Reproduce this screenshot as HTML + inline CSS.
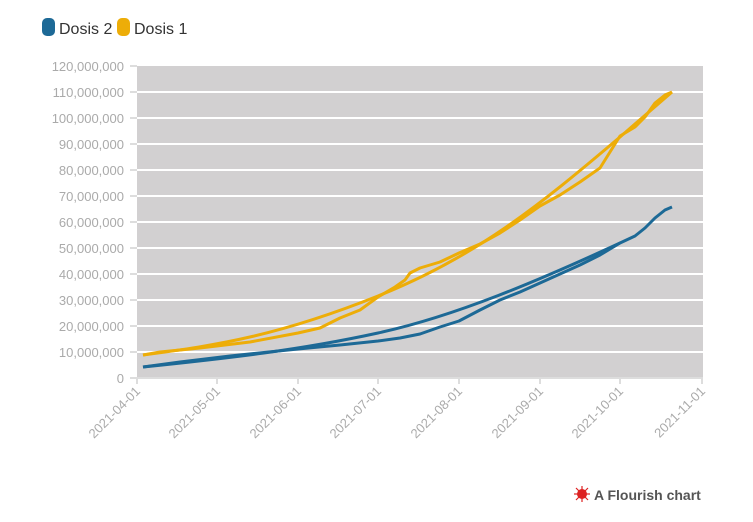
<!DOCTYPE html>
<html><head><meta charset="utf-8"><style>
body{margin:0;background:#fff;width:753px;height:517px;overflow:hidden;font-family:"Liberation Sans",sans-serif}
</style></head><body>
<svg width="753" height="517" xmlns="http://www.w3.org/2000/svg" font-family="Liberation Sans, sans-serif">
<rect x="42" y="18" width="13" height="18" rx="5" fill="#1d6996"/>
<text x="59" y="34" font-size="16" fill="#333">Dosis 2</text>
<rect x="117" y="18" width="13" height="18" rx="5" fill="#edad08"/>
<text x="134" y="34" font-size="16" fill="#333">Dosis 1</text>
<rect x="137" y="66" width="566" height="311" fill="#d2d0d1"/>
<g stroke="#fff" stroke-width="2">
<line x1="137" x2="703" y1="92" y2="92"/><line x1="137" x2="703" y1="118" y2="118"/>
<line x1="137" x2="703" y1="144" y2="144"/><line x1="137" x2="703" y1="170" y2="170"/>
<line x1="137" x2="703" y1="196" y2="196"/><line x1="137" x2="703" y1="222" y2="222"/>
<line x1="137" x2="703" y1="248" y2="248"/><line x1="137" x2="703" y1="274" y2="274"/>
<line x1="137" x2="703" y1="300" y2="300"/><line x1="137" x2="703" y1="326" y2="326"/>
<line x1="137" x2="703" y1="352" y2="352"/>
</g>
<g stroke="#ddd" stroke-width="2">
<line x1="130" x2="137" y1="66" y2="66"/><line x1="130" x2="137" y1="92" y2="92"/><line x1="130" x2="137" y1="118" y2="118"/><line x1="130" x2="137" y1="144" y2="144"/><line x1="130" x2="137" y1="170" y2="170"/><line x1="130" x2="137" y1="196" y2="196"/><line x1="130" x2="137" y1="222" y2="222"/><line x1="130" x2="137" y1="248" y2="248"/><line x1="130" x2="137" y1="274" y2="274"/><line x1="130" x2="137" y1="300" y2="300"/><line x1="130" x2="137" y1="326" y2="326"/><line x1="130" x2="137" y1="352" y2="352"/><line x1="130" x2="137" y1="378" y2="378"/>
<line x1="137" x2="703" y1="378" y2="378"/>
<line x1="137" x2="137" y1="378" y2="384"/><line x1="217" x2="217" y1="378" y2="384"/><line x1="298" x2="298" y1="378" y2="384"/><line x1="378" x2="378" y1="378" y2="384"/><line x1="459" x2="459" y1="378" y2="384"/><line x1="540" x2="540" y1="378" y2="384"/><line x1="620" x2="620" y1="378" y2="384"/><line x1="702" x2="702" y1="378" y2="384"/>
</g>
<g font-size="13" fill="#aaa" text-anchor="end">
<text x="124" y="71">120,000,000</text><text x="124" y="97">110,000,000</text><text x="124" y="123">100,000,000</text><text x="124" y="149">90,000,000</text><text x="124" y="175">80,000,000</text><text x="124" y="201">70,000,000</text><text x="124" y="227">60,000,000</text><text x="124" y="253">50,000,000</text><text x="124" y="279">40,000,000</text><text x="124" y="305">30,000,000</text><text x="124" y="331">20,000,000</text><text x="124" y="357">10,000,000</text><text x="124" y="383">0</text>
</g>
<g font-size="13" fill="#aaa" text-anchor="end">
<text transform="translate(141,392) rotate(-45)">2021-04-01</text>
<text transform="translate(221,392) rotate(-45)">2021-05-01</text>
<text transform="translate(302,392) rotate(-45)">2021-06-01</text>
<text transform="translate(382,392) rotate(-45)">2021-07-01</text>
<text transform="translate(463,392) rotate(-45)">2021-08-01</text>
<text transform="translate(544,392) rotate(-45)">2021-09-01</text>
<text transform="translate(624,392) rotate(-45)">2021-10-01</text>
<text transform="translate(706,392) rotate(-45)">2021-11-01</text>
</g>
<g fill="none" stroke-width="3" stroke-linejoin="round">
<path stroke="#edad08" d="M143,355 C220,345 280,335 378,296 S540,205 620,137 L672,92"/>
<path stroke="#edad08" d="M143,355 L160,352 L200,348 L250,342 L298,333 L320,328 L340,318 L360,310 L378,297 L395,287 L405,280 L410,273 L420,268 L440,262 L459,253 L480,244 L500,233 L520,220 L540,206 L560,195 L580,182 L600,168 L610,152 L620,136 L635,127 L645,117 L655,103 L665,95 L672,92"/>
<path stroke="#1d6996" d="M143,367 C230,358 300,350 378,333 S540,280 620,243"/>
<path stroke="#1d6996" d="M143,367 L180,362 L230,356 L298,349 L340,345 L378,341 L400,338 L420,334 L440,327 L459,321 L480,310 L500,300 L520,292 L540,283 L560,274 L580,265 L600,255 L620,243 L635,236 L645,228 L655,218 L665,210 L672,207"/>
</g>
<circle cx="582" cy="494" r="5" fill="#d22"/>
<g stroke="#d22" stroke-width="1.2"><line x1="574" y1="494" x2="590" y2="494"/><line x1="582" y1="486" x2="582" y2="502"/><line x1="576" y1="488" x2="588" y2="500"/><line x1="576" y1="500" x2="588" y2="488"/></g>
<text x="594" y="500" font-size="14" font-weight="bold" fill="#555">A Flourish chart</text>
</svg>
</body></html>
